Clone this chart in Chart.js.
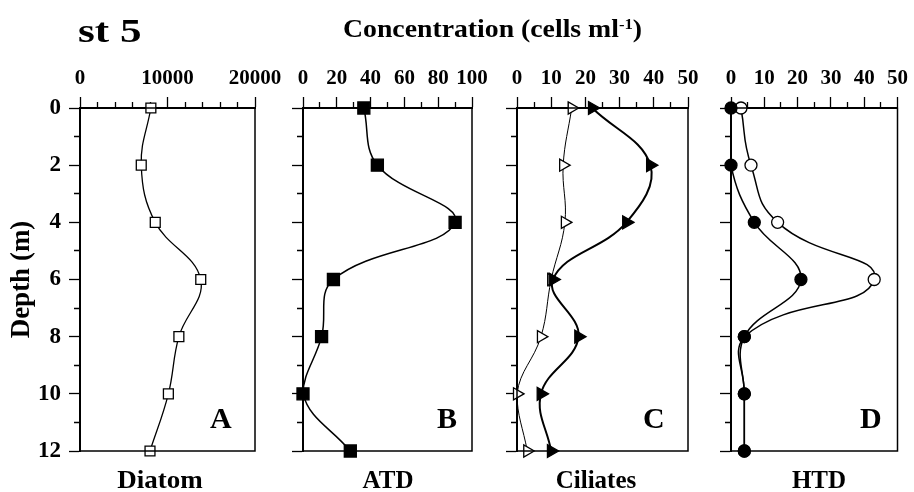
<!DOCTYPE html>
<html>
<head>
<meta charset="utf-8">
<script src="https://cdn.jsdelivr.net/npm/chart.js@4/dist/chart.umd.min.js"></script>
<style>
body { margin: 0; background: #fff; }
#wrap { position: relative; width: 914px; height: 492px; overflow: hidden;
        font-family: "Liberation Serif", "Times New Roman", serif; font-weight: bold; color: #000; }
canvas { position: absolute; left: 0; top: 0; }
.lbl { position: absolute; white-space: nowrap; line-height: 1; }
.lbl sup { font-size: 60%; vertical-align: 0.55em; line-height: 0; }
</style>
</head>
<body>
<div id="wrap">
  <canvas id="chartA" width="914" height="492"></canvas>
  <canvas id="chartB" width="914" height="492"></canvas>
  <canvas id="chartC" width="914" height="492"></canvas>
  <canvas id="chartD" width="914" height="492"></canvas>

  <div class="lbl" style="left:78px; top:14px; font-size:34px; transform:scaleX(1.27); transform-origin:0 0;">st 5</div>
  <div class="lbl" style="left:343px; top:16px; font-size:25px; transform:scaleX(1.11); transform-origin:0 0;">Concentration (cells ml<sup>-1</sup>)</div>

  <div class="lbl" style="left:210px; top:403px; font-size:30px;">A</div>
  <div class="lbl" style="left:437px; top:403px; font-size:30px;">B</div>
  <div class="lbl" style="left:643px; top:403px; font-size:30px;">C</div>
  <div class="lbl" style="left:860px; top:403px; font-size:30px;">D</div>

  <div class="lbl" style="left:160px; top:467px; font-size:25px; transform:translateX(-50%) scaleX(1.08);">Diatom</div>
  <div class="lbl" style="left:388px; top:467px; font-size:25px; transform:translateX(-50%);">ATD</div>
  <div class="lbl" style="left:596px; top:467px; font-size:25px; transform:translateX(-50%);">Ciliates</div>
  <div class="lbl" style="left:819px; top:467px; font-size:25px; transform:translateX(-50%);">HTD</div>
</div>

<script>
// depth of each sample (m)
var depths = [0, 2, 4, 6, 8, 10, 12];

// concentrations (cells ml-1)
var diatom = [8100, 7000, 8600, 13800, 11300, 10100, 8000];
var atd = [36, 44, 90, 18, 11, 0, 28];
var ciliatesOpen = [16, 13.5, 14, 10, 7, 0, 3];
var ciliatesFilled = [22, 39, 32, 10.5, 18, 7, 10];
var htdFilled = [0, 0, 7, 21, 4, 4, 4];
var htdOpen = [3, 6, 14, 43, 4, 4, 4];

var plotTop = 108;
var plotBottom = 451;
var serif = '"Liberation Serif", "Times New Roman", serif';

function profile(values) {
    return depths.map((d, i) => ({ x: values[i], y: d }));
}

// box round the plotting area
const frame = {
    id: 'frame',
    afterDatasetsDraw(chart) {
        const { ctx, chartArea: a } = chart;
        ctx.save();
        ctx.strokeStyle = '#000';
        ctx.lineWidth = 1.5;
        ctx.strokeRect(a.left, a.top, a.right - a.left, a.bottom - a.top);
        ctx.restore();
    }
};

function makePanel(id, left, right, xMax, xStep, labelStep, datasets, first) {
    var padLeft = first ? 0 : left - 14;
    return new Chart(document.getElementById(id), {
        type: 'line',
        data: { datasets: datasets },
        options: {
            responsive: false,
            animation: false,
            indexAxis: 'y',
            layout: { padding: { left: padLeft, right: 914 - right, top: 40, bottom: 492 - plotBottom } },
            plugins: { legend: { display: false }, tooltip: { enabled: false } },
            scales: {
                x: {
                    type: 'linear',
                    position: 'top',
                    min: 0,
                    max: xMax,
                    afterFit: s => { s.height = plotTop - 40; },
                    border: { color: '#000', width: 2 },
                    grid: {
                        drawOnChartArea: false,
                        color: '#000',
                        tickLength: 11,
                        tickWidth: 1.3,
                        tickColor: '#000',
                        tickBorderDash: c => (c.tick && c.tick.value % labelStep !== 0) ? [0, 5, 30, 0] : []
                    },
                    ticks: {
                        stepSize: xStep,
                        autoSkip: false,
                        maxRotation: 0,
                        padding: 6,
                        color: '#000',
                        font: { family: serif, size: 21, weight: 'bold' },
                        callback: v => (v % labelStep === 0 ? v : '')
                    }
                },
                y: {
                    type: 'linear',
                    reverse: true,
                    min: 0,
                    max: 12,
                    afterFit: s => { s.width = left - padLeft; },
                    border: { color: '#000', width: 2 },
                    grid: {
                        drawOnChartArea: false,
                        color: '#000',
                        tickLength: 11,
                        tickWidth: 1.3,
                        tickColor: '#000',
                        tickBorderDash: c => (c.tick && c.tick.value % 2 !== 0) ? [0, 5, 30, 0] : []
                    },
                    ticks: {
                        stepSize: 1,
                        autoSkip: false,
                        padding: 8,
                        color: '#000',
                        font: { family: serif, size: 23, weight: 'bold' },
                        callback: v => (first && v % 2 === 0 ? v : '')
                    },
                    title: {
                        display: first,
                        text: 'Depth (m)',
                        color: '#000',
                        padding: { top: 6, bottom: 0 },
                        font: { family: serif, size: 27, weight: 'bold' }
                    }
                }
            }
        },
        plugins: [frame]
    });
}

function series(values, style, radius, rotation, fill, width, tension) {
    return {
        data: profile(values),
        borderColor: '#000',
        borderWidth: width,
        tension: tension || 0.4,
        clip: false,
        pointStyle: style,
        pointRadius: radius,
        pointRotation: rotation,
        pointBackgroundColor: fill,
        pointBorderColor: '#000',
        pointBorderWidth: 1.3
    };
}

// first dataset in the list is drawn on top
makePanel('chartA', 80, 255, 20000, 2000, 10000, [
    series(diatom, 'rect', 7, 0, '#fff', 1.3)
], true);

makePanel('chartB', 303, 472, 100, 10, 20, [
    series(atd, 'rect', 8.5, 0, '#000', 1.5)
], false);

makePanel('chartC', 517, 688, 50, 5, 10, [
    series(ciliatesFilled, 'triangle', 7.5, 90, '#000', 2),
    series(ciliatesOpen, 'triangle', 7, 90, '#fff', 1)
], false);

makePanel('chartD', 731, 903, 50, 5, 10, [
    series(htdFilled, 'circle', 6, 0, '#000', 1.5),
    series(htdOpen, 'circle', 6, 0, '#fff', 1.5, 0.5)
], false);
</script>
</body>
</html>
